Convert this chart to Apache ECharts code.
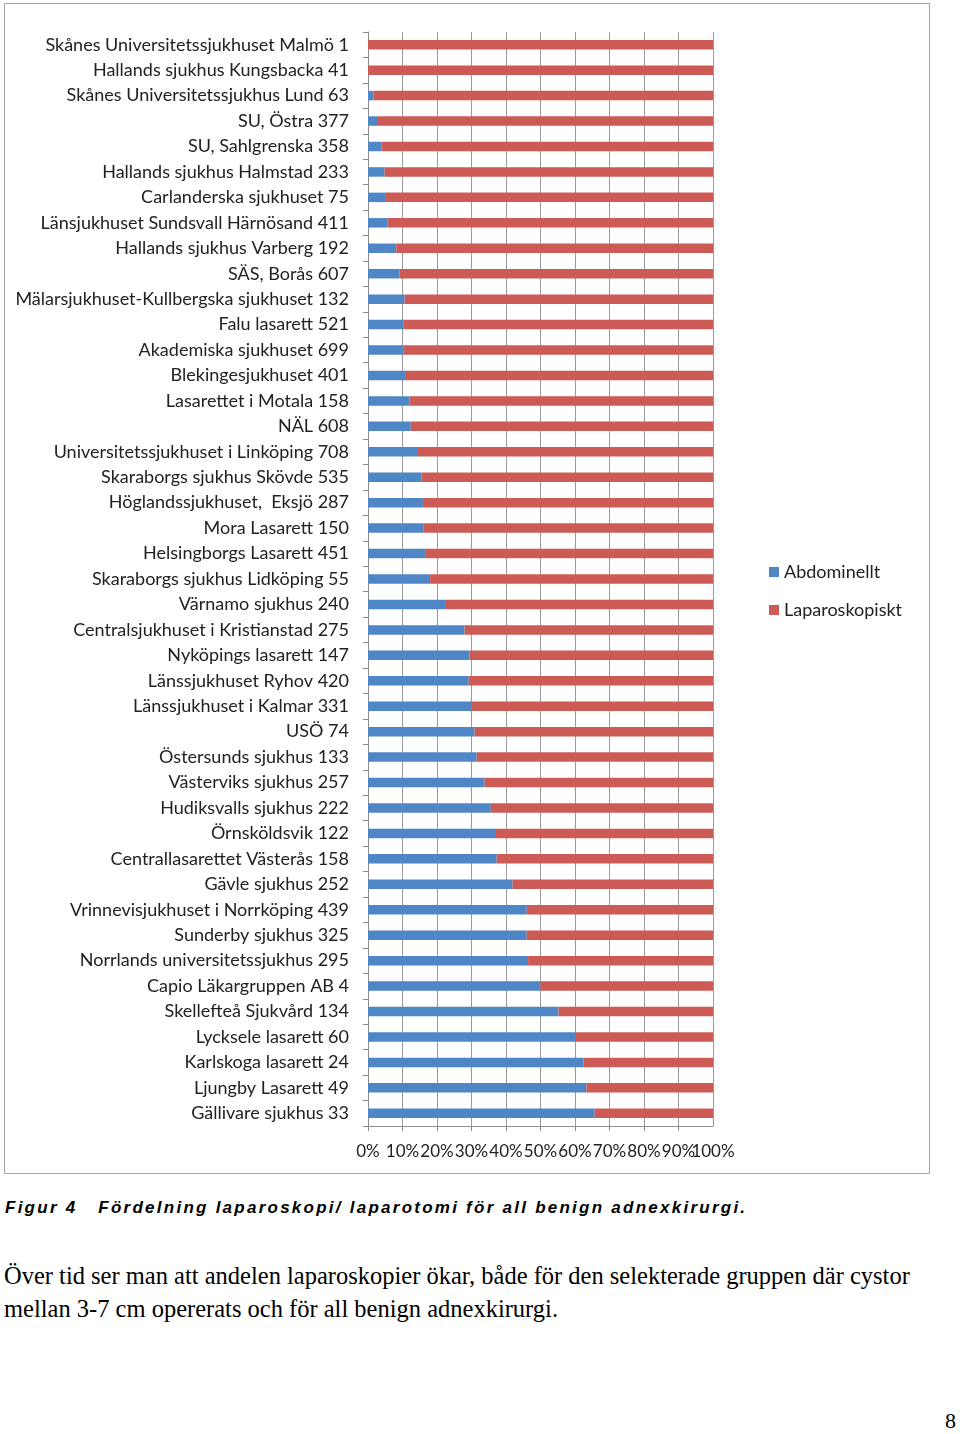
<!DOCTYPE html>
<html>
<head>
<meta charset="utf-8">
<script src="https://cdn.jsdelivr.net/npm/echarts@6/dist/echarts.min.js"></script>
<style>
  html, body { margin: 0; padding: 0; background: #fff; }
  body { width: 960px; height: 1434px; position: relative; overflow: hidden; }
  #chart { position: absolute; left: 4px; top: 3px; width: 924px; height: 1169px; border: 1px solid #a6a6a6; }
  #caption { position: absolute; left: 5px; top: 1198px; font-family: "Liberation Sans", Arial, sans-serif; font-weight: bold; font-style: italic; font-size: 17px; letter-spacing: 2.25px; white-space: pre; color: #000; }
  #para { position: absolute; left: 4px; top: 1259px; width: 950px; font-family: "Liberation Serif", "Times New Roman", serif; font-size: 24.5px; line-height: 33px; color: #000; white-space: nowrap; }
  #page { position: absolute; left: 945px; top: 1408px; font-family: "Liberation Serif", serif; font-size: 22px; color: #000; }
</style>
</head>
<body>
<div id="chart"></div>
<div id="caption">Figur 4   Fördelning laparoskopi/ laparotomi för all benign adnexkirurgi.</div>
<div id="para">Över tid ser man att andelen laparoskopier ökar, både för den selekterade gruppen där cystor<br>mellan 3-7 cm opererats och för all benign adnexkirurgi.</div>
<div id="page">8</div>
<script>
const categories = [
  "Skånes Universitetssjukhuset Malmö 1",
  "Hallands sjukhus Kungsbacka 41",
  "Skånes Universitetssjukhus Lund 63",
  "SU, Östra 377",
  "SU, Sahlgrenska 358",
  "Hallands sjukhus Halmstad 233",
  "Carlanderska sjukhuset 75",
  "Länsjukhuset Sundsvall Härnösand 411",
  "Hallands sjukhus Varberg 192",
  "SÄS, Borås 607",
  "Mälarsjukhuset-Kullbergska sjukhuset 132",
  "Falu lasarett 521",
  "Akademiska sjukhuset 699",
  "Blekingesjukhuset 401",
  "Lasarettet i Motala 158",
  "NÄL 608",
  "Universitetssjukhuset i Linköping 708",
  "Skaraborgs sjukhus Skövde 535",
  "Höglandssjukhuset,  Eksjö 287",
  "Mora Lasarett 150",
  "Helsingborgs Lasarett 451",
  "Skaraborgs sjukhus Lidköping 55",
  "Värnamo sjukhus 240",
  "Centralsjukhuset i Kristianstad 275",
  "Nyköpings lasarett 147",
  "Länssjukhuset Ryhov 420",
  "Länssjukhuset i Kalmar 331",
  "USÖ 74",
  "Östersunds sjukhus 133",
  "Västerviks sjukhus 257",
  "Hudiksvalls sjukhus 222",
  "Örnsköldsvik 122",
  "Centrallasarettet Västerås 158",
  "Gävle sjukhus 252",
  "Vrinnevisjukhuset i Norrköping 439",
  "Sunderby sjukhus 325",
  "Norrlands universitetssjukhus 295",
  "Capio Läkargruppen AB 4",
  "Skellefteå Sjukvård 134",
  "Lycksele lasarett 60",
  "Karlskoga lasarett 24",
  "Ljungby Lasarett 49",
  "Gällivare sjukhus 33"
];

// Abdominellt (%)
const abdominellt = [
  0, 0, 1.6, 2.9, 3.9, 4.8, 5.2, 5.6, 8.2, 9.1,
  10.6, 10.2, 10.2, 11.0, 12.0, 12.4, 14.5, 15.5, 15.9, 16.0,
  16.5, 18.0, 22.6, 28.0, 29.4, 29.2, 30.0, 30.9, 31.5, 33.8,
  35.6, 37.1, 37.3, 41.9, 46.0, 46.0, 46.4, 50.0, 55.2, 60.0,
  62.5, 63.3, 65.7
];

// Laparoskopiskt (%)
const laparoskopiskt = [
  100, 100, 98.4, 97.1, 96.1, 95.2, 94.8, 94.4, 91.8, 90.9,
  89.4, 89.8, 89.8, 89.0, 88.0, 87.6, 85.5, 84.5, 84.1, 84.0,
  83.5, 82.0, 77.4, 72.0, 70.6, 70.8, 70.0, 69.1, 68.5, 66.2,
  64.4, 62.9, 62.7, 58.1, 54.0, 54.0, 53.6, 50.0, 44.8, 40.0,
  37.5, 36.7, 34.3
];

const seriesNames = ["Abdominellt", "Laparoskopiskt"];
// tick labels: the last one sits on a second (label-only) axis so it is not hidden by overlap
const xTicksMain = [0, 10, 20, 30, 40, 50, 60, 70, 80, 90];
const xTicksEnd = [100];

const FONT = "Lato, 'Open Sans', sans-serif";
const chart = echarts.init(document.getElementById('chart'), null, { renderer: 'canvas' });
const labelBase = { margin: 17, fontFamily: FONT, fontSize: 17, color: '#222', hideOverlap: false, interval: 0 };
chart.setOption({
  animation: false,
  backgroundColor: '#fff',
  color: ['#4F86C6', '#CD5B55'],
  grid: { left: 363, right: 216, top: 28, bottom: 47, containLabel: false },
  legend: {
    orient: 'vertical',
    left: 759, top: 554,
    itemWidth: 10, itemHeight: 10, itemGap: 20,
    icon: 'rect',
    textStyle: { fontFamily: FONT, fontSize: 18, color: '#222' },
    data: seriesNames
  },
  xAxis: [{
    type: 'value', min: 0, max: 100, interval: 10,
    axisLine: { show: true, lineStyle: { color: '#8c8c8c' } },
    axisTick: { show: true, length: 5, lineStyle: { color: '#8c8c8c' } },
    splitLine: { show: true, lineStyle: { color: '#9a9a9a', width: 1 } },
    axisLabel: Object.assign({}, labelBase, {
      showMinLabel: true, showMaxLabel: false,
      formatter: v => xTicksMain.includes(v) ? v + '%' : ''
    })
  }, {
    type: 'value', min: 0, max: 100, interval: 10, position: 'bottom', offset: 0,
    axisLine: { show: false }, axisTick: { show: false }, splitLine: { show: false },
    axisLabel: Object.assign({}, labelBase, {
      showMinLabel: false, showMaxLabel: true,
      formatter: v => xTicksEnd.includes(v) ? v + '%' : ''
    })
  }],
  yAxis: {
    type: 'category', data: categories, inverse: true,
    axisLine: { show: true, lineStyle: { color: '#8c8c8c' } },
    axisTick: { show: true, length: 5, lineStyle: { color: '#8c8c8c' } },
    splitLine: { show: false },
    axisLabel: { margin: 19, fontFamily: FONT, fontSize: 18, color: '#222', interval: 0 }
  },
  series: [
    { name: seriesNames[0], type: 'bar', stack: 'total', data: abdominellt, barWidth: 9.5 },
    { name: seriesNames[1], type: 'bar', stack: 'total', data: laparoskopiskt, barWidth: 9.5 }
  ]
});
</script>
</body>
</html>
